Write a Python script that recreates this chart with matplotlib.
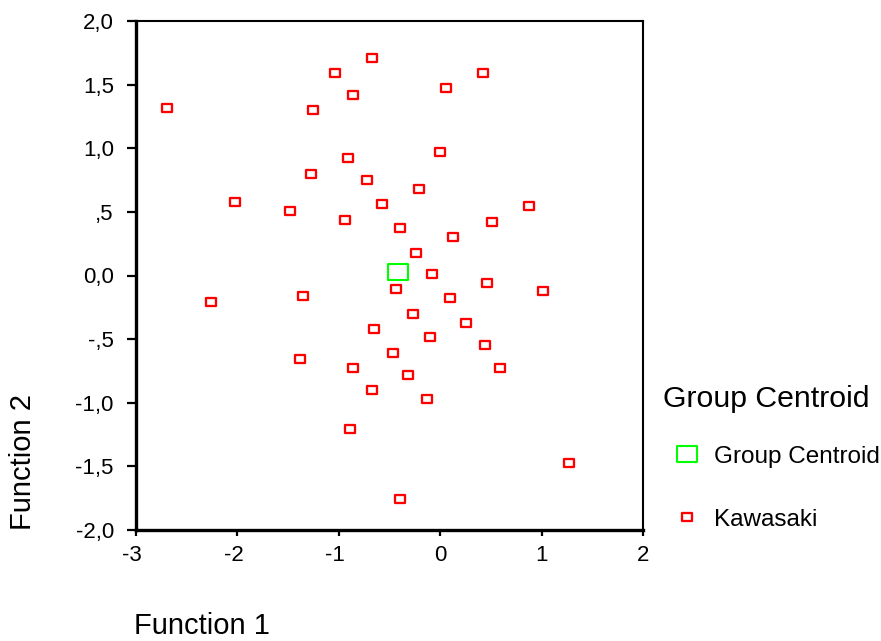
import numpy as np
import matplotlib
matplotlib.use("Agg")
import matplotlib.pyplot as plt
import matplotlib.transforms as mtransforms
from matplotlib.path import Path

plt.rcParams['font.family'] = ['Liberation Sans', 'DejaVu Sans']

# data (discriminant scores)
kawasaki_f1 = [-2.69, -1.04, -0.67, -0.86, -1.25, 0.06, 0.42, -0.91, 0.00, -1.27,
               -0.72, -0.21, -2.02, -1.48, -0.94, -0.57, -0.40, 0.13, 0.51, 0.88,
               -0.24, -0.08, -0.44, -1.35, -2.26, 0.10, 0.46, 1.01, -0.27, 0.25,
               -0.65, -0.10, 0.44, -1.38, -0.47, -0.86, 0.59, -0.32, -0.67, -0.13,
               -0.89, 1.27, -0.40]
kawasaki_f2 = [1.32, 1.59, 1.71, 1.42, 1.30, 1.47, 1.59, 0.92, 0.97, 0.80,
               0.75, 0.68, 0.58, 0.51, 0.44, 0.56, 0.37, 0.30, 0.42, 0.55,
               0.18, 0.01, -0.11, -0.16, -0.21, -0.18, -0.06, -0.12, -0.30, -0.37,
               -0.42, -0.48, -0.55, -0.66, -0.61, -0.73, -0.73, -0.78, -0.90, -0.97,
               -1.21, -1.47, -1.76]
centroid_f1 = [-0.42]
centroid_f2 = [0.03]

xticks = [-3, -2, -1, 0, 1, 2]
xticklabels = ['-3', '-2', '-1', '0', '1', '2']
yticks = [-2, -1.5, -1, -0.5, 0, 0.5, 1, 1.5, 2]
yticklabels = ['-2,0', '-1,5', '-1,0', '-,5', '0,0', ',5', '1,0', '1,5', '2,0']

# rectangular hollow markers (SPSS style)
small_box = Path([(-1, -0.72), (1, -0.72), (1, 0.72), (-1, 0.72), (-1, -0.72)],
                 [Path.MOVETO, Path.LINETO, Path.LINETO, Path.LINETO, Path.CLOSEPOLY])
big_box = Path([(-1, -0.8), (1, -0.8), (1, 0.8), (-1, 0.8), (-1, -0.8)],
               [Path.MOVETO, Path.LINETO, Path.LINETO, Path.LINETO, Path.CLOSEPOLY])

fig = plt.figure(figsize=(8.81, 6.41), dpi=100)
ax = fig.add_axes([136/881, 1-530/641, 507/881, 509/641])

kw, = ax.plot(kawasaki_f1, kawasaki_f2, linestyle='none', marker=small_box,
              markersize=7.7, markerfacecolor='white', markeredgecolor='#ff0000',
              markeredgewidth=1.65, label='Kawasaki')
gc, = ax.plot(centroid_f1, centroid_f2, linestyle='none', marker=big_box,
              markersize=14.4, markerfacecolor='none', markeredgecolor='#00ff00',
              markeredgewidth=1.5, label='Group Centroid')

ax.set_xlim(-3, 2)
ax.set_ylim(-2, 2)
ax.set_xticks(xticks)
ax.set_xticklabels(xticklabels)
ax.set_yticks(yticks)
ax.set_yticklabels(yticklabels)

for side in ['left', 'bottom']:
    ax.spines[side].set_linewidth(2.4)
for side in ['top', 'right']:
    ax.spines[side].set_linewidth(1.5)

ax.tick_params(axis='both', direction='out', width=1.6, labelsize=16, colors='black')
ax.tick_params(axis='y', length=6.5, pad=9.5)
ax.tick_params(axis='x', length=4.5, pad=6.5)

# SPSS keeps the digit on the tick and lets the minus hang left
shift = mtransforms.ScaledTranslation(-4/100, 0, fig.dpi_scale_trans)
for lab in ax.get_xticklabels():
    if lab.get_text().startswith('-'):
        lab.set_transform(lab.get_transform() + shift)

fig.text(23/881, 1-530/641, 'Function 2', rotation=90, ha='center', va='bottom',
         fontsize=21)
fig.text(134/881, 1-626/641, 'Function 1', ha='left', va='center', fontsize=21)

# legend title drawn separately so the gaps can follow the reference
fig.text(663/881, 1-399/641, 'Group Centroid', ha='left', va='center', fontsize=21.8)
leg = ax.legend(handles=[gc, kw], frameon=False,
                loc='upper left', bbox_to_anchor=(653/881, 1-436/641),
                bbox_transform=fig.transFigure, fontsize=17.5,
                handlelength=2.0, handletextpad=0.1, labelspacing=1.68,
                borderaxespad=0)

fig.savefig('out.png', dpi=100)
